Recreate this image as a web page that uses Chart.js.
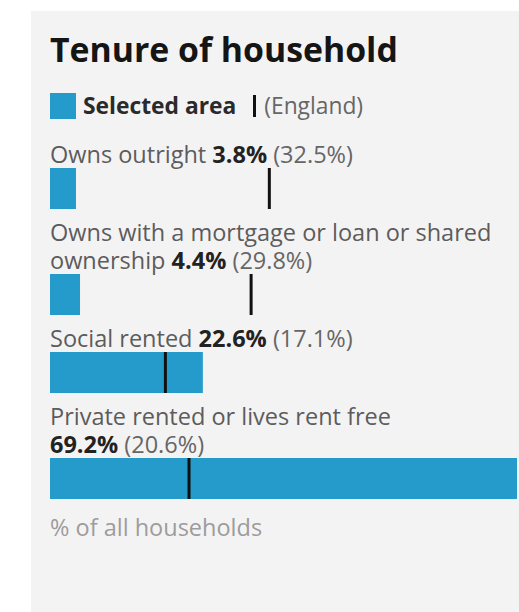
<!DOCTYPE html>
<html>
<head>
<meta charset="utf-8">
<script src="https://cdn.jsdelivr.net/npm/chart.js@4"></script>
<style>
  html, body { margin: 0; padding: 0; background: #ffffff; width: 519px; height: 612px; overflow: hidden; }
  body { font-family: "Open Sans", sans-serif; position: relative; }
  #panel { position: absolute; left: 31px; top: 11px; width: 488px; height: 601px; background: #f4f3f4; }
  #title { position: absolute; left: 50px; top: 26px; font-size: 33.8px; font-weight: 700; color: #151515; line-height: 46px; white-space: nowrap; }
  #legend { position: absolute; left: 50px; top: 92px; height: 27px; display: flex; align-items: center; font-size: 22.8px; white-space: nowrap; }
  #legend .sw { width: 26px; height: 26px; background: #249bcb; margin-right: 7px; }
  #legend .sel { font-weight: 700; color: #2a2a2a; }
  #legend .eng-mark { width: 3px; height: 22px; background: #111; margin-left: 17px; margin-right: 8px; }
  #legend .eng { color: #666; }
  #rows { position: absolute; left: 50px; top: 140px; width: 467px; }
  .row { margin-bottom: 9px; }
  .lbl { font-size: 23.5px; line-height: 28px; color: #5c5c5c; }
  .lbl b { color: #222; font-weight: 700; }
  .lbl .nw { white-space: nowrap; }
  .lbl .en { color: #666; }
  .bar { position: relative; width: 467px; height: 41px; }
  #foot { position: absolute; left: 50px; top: 513px; font-size: 23.5px; line-height: 28px; color: #9c9c9c; white-space: nowrap; }
</style>
</head>
<body>
<div id="panel"></div>
<div id="title">Tenure of household</div>
<div id="legend"><div class="sw"></div><span class="sel">Selected area</span><div class="eng-mark"></div><span class="eng">(England)</span></div>
<div id="rows"></div>
<div id="foot">% of all households</div>
<script>
const categories = [
  'Owns outright',
  'Owns with a mortgage or loan or shared ownership',
  'Social rented',
  'Private rented or lives rent free'
];
const selectedArea = [3.8, 4.4, 22.6, 69.2];
const england = [32.5, 29.8, 17.1, 20.6];

const barColor = '#249bcb';
const markColor = '#111111';
const xMax = Math.max(...selectedArea);

const rowsEl = document.getElementById('rows');
categories.forEach((cat, i) => {
  const row = document.createElement('div');
  row.className = 'row';
  const lbl = document.createElement('div');
  lbl.className = 'lbl';
  lbl.innerHTML = cat + ' <span class="nw"><b>' + selectedArea[i].toFixed(1) + '%</b> <span class="en">(' + england[i].toFixed(1) + '%)</span></span>';
  row.appendChild(lbl);
  const barBox = document.createElement('div');
  barBox.className = 'bar';
  const cv = document.createElement('canvas');
  barBox.appendChild(cv);
  row.appendChild(barBox);
  rowsEl.appendChild(row);

  new Chart(cv, {
    type: 'bar',
    data: {
      labels: [cat],
      datasets: [
        {
          label: 'Selected area',
          data: [selectedArea[i]],
          backgroundColor: barColor,
          borderWidth: 0,
          barPercentage: 1,
          categoryPercentage: 1,
          order: 2
        },
        {
          type: 'line',
          label: 'England',
          indexAxis: 'y',
          data: [england[i]],
          showLine: false,
          pointStyle: 'line',
          rotation: 90,
          pointRadius: 20.5,
          pointHoverRadius: 20.5,
          pointBorderWidth: 3,
          pointBorderColor: markColor,
          borderColor: markColor,
          backgroundColor: markColor,
          clip: false,
          order: 1
        }
      ]
    },
    options: {
      indexAxis: 'y',
      responsive: true,
      maintainAspectRatio: false,
      animation: false,
      layout: { padding: 0, autoPadding: false },
      plugins: { legend: { display: false }, tooltip: { enabled: false }, title: { display: false } },
      scales: {
        x: { display: false, min: 0, max: xMax },
        y: { display: false }
      }
    }
  });
});
</script>
</body>
</html>
